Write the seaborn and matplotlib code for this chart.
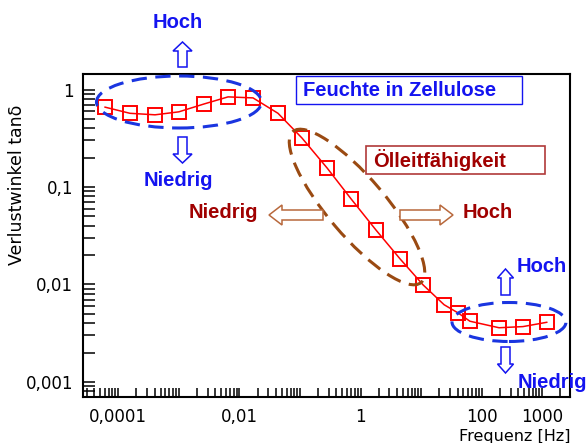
import numpy as np
import pandas as pd
import matplotlib
matplotlib.use("Agg")
import matplotlib.pyplot as plt
from matplotlib.patches import Ellipse, Rectangle, FancyArrow
from matplotlib.transforms import IdentityTransform
from matplotlib.ticker import LogLocator, NullFormatter, FixedLocator, FixedFormatter
import seaborn as sns

# Measured loss factor tan(delta) over frequency
freq_hz = [6.0e-5, 1.56e-4, 4.05e-4, 1.0e-3, 2.6e-3, 6.5e-3, 0.0168, 0.0434,
           0.108, 0.28, 0.70, 1.8, 4.5, 10.8, 24, 41, 64, 194, 482, 1200]
tan_delta = [0.66, 0.57, 0.55, 0.59, 0.71, 0.84, 0.82, 0.57,
             0.318, 0.157, 0.0754, 0.0362, 0.0183, 0.0099, 0.0062, 0.0051,
             0.0042, 0.0036, 0.0037, 0.0041]

x_tick_values = [1e-4, 1e-3, 1e-2, 1e-1, 1, 10, 100, 1000]
x_tick_labels = ["0,0001", "", "0,01", "", "1", "", "100", "1000"]
y_tick_values = [1e-3, 1e-2, 1e-1, 1]
y_tick_labels = ["0,001", "0,01", "0,1", "1"]

df = pd.DataFrame({"Frequenz": freq_hz, "tand": tan_delta})

sns.set_style("ticks")
plt.rcParams["font.family"] = ["DejaVu Sans"]
plt.rcParams["text.color"] = "black"
plt.rcParams["axes.labelcolor"] = "black"

W, H = 588, 443
fig = plt.figure(figsize=(W / 100, H / 100), dpi=100)
ax = fig.add_axes([83 / W, 1 - 397 / H, (570 - 83) / W, (397 - 74) / H])
ax.set_xscale("log")
ax.set_yscale("log")

sns.lineplot(data=df, x="Frequenz", y="tand", ax=ax, color="red",
             linewidth=1.1, marker="s", markersize=9.5,
             markerfacecolor="none", markeredgecolor="red",
             markeredgewidth=1.4, zorder=3)

ax.set_xlim(10 ** -4.582, 10 ** 3.459)
ax.set_ylim(10 ** -3.154, 10 ** 0.159)

ax.xaxis.set_major_locator(FixedLocator(x_tick_values))
ax.xaxis.set_major_formatter(FixedFormatter(x_tick_labels))
ax.xaxis.set_minor_locator(LogLocator(base=10, subs=np.arange(2, 10)))
ax.xaxis.set_minor_formatter(NullFormatter())
ax.yaxis.set_major_locator(FixedLocator(y_tick_values))
ax.yaxis.set_major_formatter(FixedFormatter(y_tick_labels))
ax.yaxis.set_minor_locator(LogLocator(base=10, subs=np.arange(2, 10)))
ax.yaxis.set_minor_formatter(NullFormatter())

ax.tick_params(axis="x", which="both", direction="in", length=6.5, width=1.1,
               labelsize=12, pad=8, colors="black")
ax.tick_params(axis="y", which="both", direction="in", length=8.6, width=1.1,
               labelsize=12, pad=7, colors="black")
for sp in ax.spines.values():
    sp.set_linewidth(1.5)
    sp.set_color("black")

ax.set_xlabel("Frequenz [Hz]", fontsize=11.5, color="black")
ax.xaxis.set_label_coords(0.887, -0.098)
ax.set_ylabel("Verlustwinkel tanδ", fontsize=12.5, color="black")
ax.yaxis.set_label_coords(-0.118, 0.656)

# ---- annotations, placed in pixel coordinates (origin top-left)
T = IdentityTransform()


def P(x, y):
    return (x, H - y)


BLUE = "#1414F0"
BLUE_DASH = "#1A35E0"
DARKRED = "#A00000"
BROWN = "#9A4A12"
BROWN_ARROW = "#B8683C"
LABEL_FONT = dict(family=["Liberation Sans", "DejaVu Sans"], fontsize=14.5,
                  fontweight="bold")


def ellipse(cx, cy, w, h, angle, color):
    e = Ellipse(P(cx, cy), w, h, angle=angle, transform=T, fill=False,
                edgecolor=color, linewidth=2.2, linestyle=(0, (5, 2.8)),
                zorder=4, clip_on=False)
    fig.add_artist(e)


def hollow_arrow(x0, y0, x1, y1, color, width, head_width, head_length):
    a = FancyArrow(*P(x0, y0), x1 - x0, -(y1 - y0), width=width,
                   head_width=head_width, head_length=head_length,
                   length_includes_head=True, facecolor="white",
                   edgecolor=color, linewidth=1.1, transform=T, zorder=4)
    fig.add_artist(a)


def label(x, y, s, color, ha="center"):
    fig.text(*P(x, y), s, color=color, ha=ha, va="center", transform=T,
             zorder=6, **LABEL_FONT)


# moisture in cellulose: low-frequency and high-frequency groups
ellipse(179, 102, 165, 52, 0, BLUE_DASH)
ellipse(509, 322, 114, 39, 0, BLUE_DASH)
hollow_arrow(182.5, 67, 182.5, 42, BLUE, 9, 19, 9)
hollow_arrow(182.5, 137, 182.5, 163, BLUE, 9, 19, 9)
hollow_arrow(505.5, 295, 505.5, 269, BLUE, 9, 16, 9)
hollow_arrow(505.5, 347, 505.5, 373, BLUE, 9, 16, 9)
label(178, 22, "Hoch", BLUE)
label(178, 180, "Niedrig", BLUE)
label(542, 267, "Hoch", BLUE)
label(552, 382, "Niedrig", BLUE)

fig.add_artist(Rectangle(P(296, 104), 226, 28, transform=T, fill=True,
                         facecolor="white", edgecolor=BLUE, linewidth=1.0,
                         zorder=4))
label(303, 90, "Feuchte in Zellulose", BLUE, ha="left")

# oil conductivity: mid-frequency slope
ellipse(357, 207, 198, 58, -49.7, BROWN)
hollow_arrow(323, 215, 269, 215, BROWN_ARROW, 10, 20, 13)
hollow_arrow(400, 215, 453, 215, BROWN_ARROW, 10, 20, 13)
label(223, 213, "Niedrig", DARKRED)
label(488, 213, "Hoch", DARKRED)

fig.add_artist(Rectangle(P(366, 174), 179, 28, transform=T, fill=True,
                         facecolor="white", edgecolor="#B03A3A", linewidth=1.2,
                         zorder=4))
label(373, 160, "Ölleitfähigkeit", DARKRED, ha="left")

fig.savefig("out.png", dpi=100)
